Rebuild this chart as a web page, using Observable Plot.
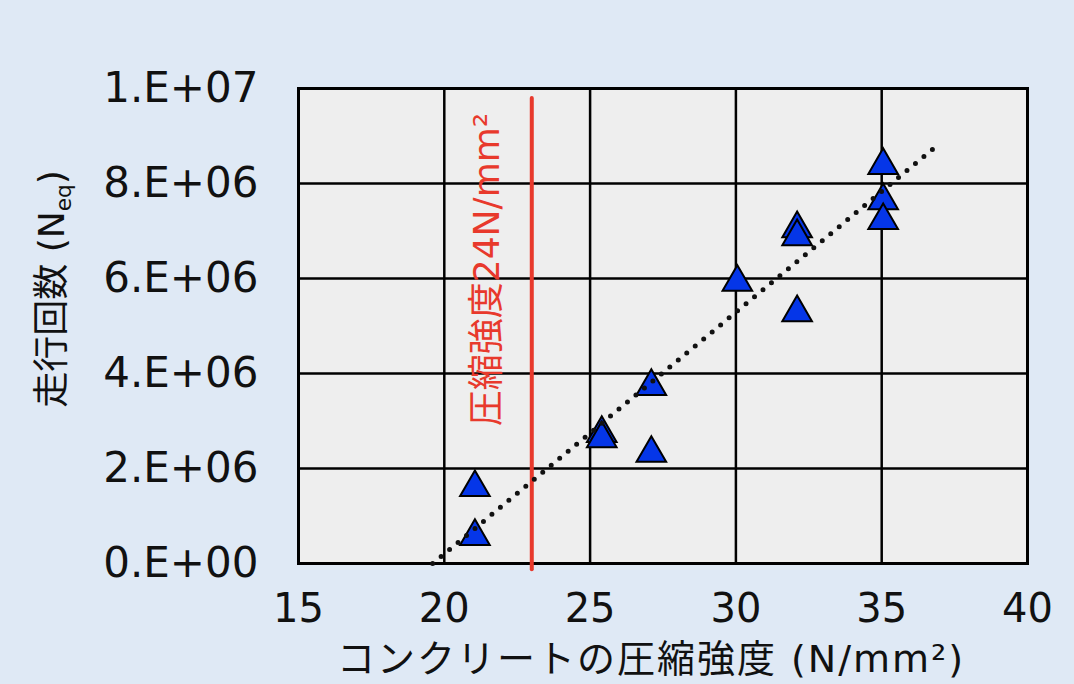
<!DOCTYPE html>
<html><head><meta charset="utf-8">
<script src="https://cdn.jsdelivr.net/npm/d3@7"></script>
<script src="https://cdn.jsdelivr.net/npm/@observablehq/plot@0.6"></script>
<style>body{margin:0;background:#dfe9f5;}</style>
</head><body><div id="chart"></div>
<script>
// Data
const strength = [21.05, 21.05, 25.4, 25.4, 27.1, 27.1, 30.05, 32.1, 32.1, 32.1, 35.05, 35.05, 35.05];
const cycles   = [1.6e6, 0.57e6, 2.74e6, 2.63e6, 3.73e6, 2.32e6, 5.92e6, 7.05e6, 6.88e6, 5.28e6, 8.38e6, 7.64e6, 7.22e6];
const trendX = [19.6, 37.0];
const trendY = [0, 8.85e6];
const limitX = [23, 23];
const limitY = [9.8e6, -0.12e6];
const xTicks = [15, 20, 25, 30, 35, 40];
const yTicks = [0, 2e6, 4e6, 6e6, 8e6, 1e7];
const yTickLabels = ["0.E+00", "2.E+06", "4.E+06", "6.E+06", "8.E+06", "1.E+07"];
const xLabel = "コンクリートの圧縮強度 (N/mm²)";
const yLabel = "走行回数 (Neq)";
const limitLabel = "圧縮強度24N/mm²";
const limitLabelAt = [21.48, 6.19e6];

const points = strength.map((x, i) => ({x, y: cycles[i]}));
const trend = trendX.map((x, i) => ({x, y: trendY[i]}));
const limit = limitX.map((x, i) => ({x, y: limitY[i]}));

const font = "'DejaVu Sans','Noto Sans CJK JP',sans-serif";
const svg = Plot.plot({
  width: 1074, height: 684,
  marginLeft: 298, marginRight: 47, marginTop: 88, marginBottom: 121,
  x: {domain: [15, 40]},
  y: {domain: [0, 1e7]},
  style: {background: "#dfe9f5", fontFamily: font, color: "#111", overflow: "visible"},
  marks: [
    Plot.frame({fill: "#eeeeee"}),
    Plot.gridX({ticks: xTicks, stroke: "#000", strokeOpacity: 1, strokeWidth: 2.5}),
    Plot.gridY({ticks: yTicks, stroke: "#000", strokeOpacity: 1, strokeWidth: 2.5}),
    Plot.frame({stroke: "#000", strokeWidth: 3}),
    Plot.axisX({ticks: xTicks, tickSize: 0, tickPadding: 30, fontSize: 40, label: null, fill: "#111"}),
    Plot.axisY({ticks: yTicks, tickFormat: d => yTickLabels[yTicks.indexOf(d)], tickSize: 0, tickPadding: 40, fontSize: 42, label: null, fill: "#111"}),
    Plot.line(limit, {x: "x", y: "y", stroke: "#e8392c", strokeWidth: 4, clip: false}),
    Plot.text([limitLabel], {text: d => d, x: () => limitLabelAt[0], y: () => limitLabelAt[1], rotate: -90, textAnchor: "middle", fontSize: 36, fill: "#e8392c"}),
    Plot.dot(points, {x: "x", y: "y", symbol: "triangle", r: 11, fill: "#0536e8", stroke: "#000", strokeWidth: 2}),
    Plot.line(trend, {x: "x", y: "y", stroke: "#111", strokeWidth: 5, strokeDasharray: "0 11", strokeLinecap: "round"}),
    Plot.text([xLabel], {text: d => d, frameAnchor: "bottom", dx: -12, dy: 96, lineAnchor: "middle", textAnchor: "middle", fontSize: 38, fill: "#111"}),
    Plot.text([yLabel], {text: d => d, frameAnchor: "left", dx: -246, dy: -37, rotate: -90, lineAnchor: "middle", textAnchor: "middle", fontSize: 36, fill: "#111"})
  ]
});
d3.select(svg).selectAll("text").filter(function() { return this.textContent === yLabel; }).each(function() {
  const t = d3.select(this); t.text(null);
  t.append("tspan").text("走行回数 (N");
  t.append("tspan").attr("font-size", "60%").attr("dy", 7).text("eq");
  t.append("tspan").attr("dy", -7).text(")");
});
d3.select(svg).selectAll("text").filter(function() { return this.textContent === xLabel; }).attr("letter-spacing", 2);
document.getElementById("chart").appendChild(svg);
</script>
</body></html>
